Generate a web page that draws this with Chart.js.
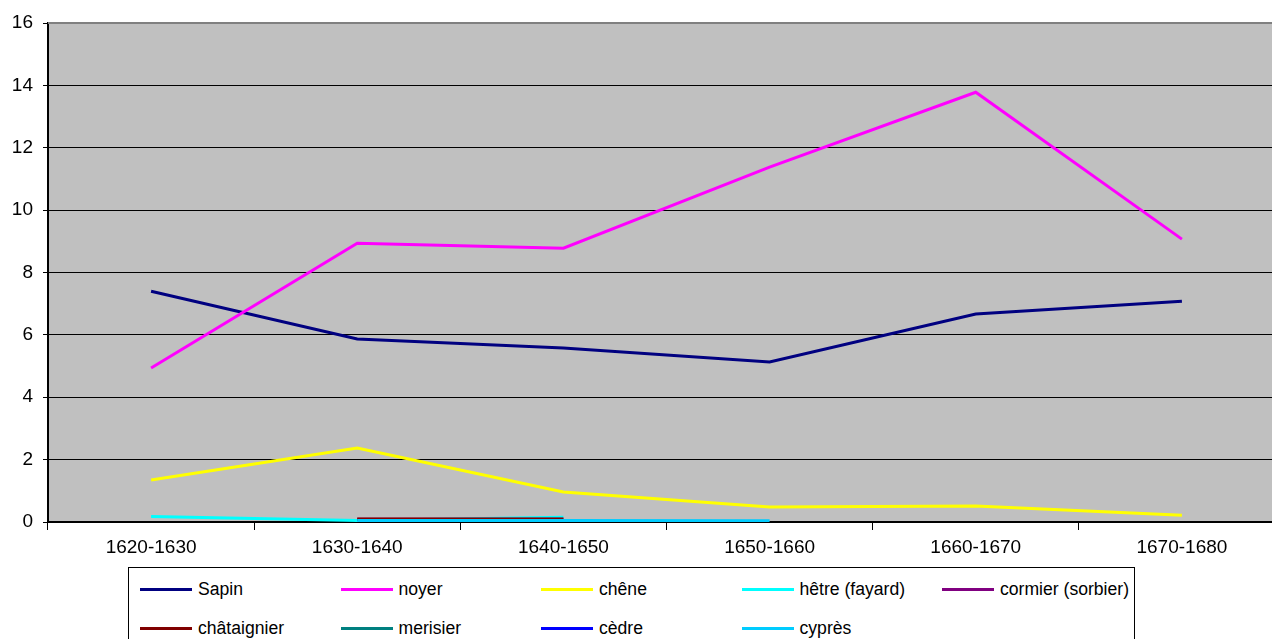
<!DOCTYPE html>
<html>
<head>
<meta charset="utf-8">
<script src="https://cdn.jsdelivr.net/npm/chart.js@4"></script>
<style>
  body { margin: 0; overflow: hidden; background: #fff; font-family: "Liberation Sans", Arial, sans-serif; }
  #wrap { position: relative; width: 1285px; height: 560px; }
  #legend {
    position: absolute; left: 128px; top: 567px; width: 1007px; height: 90px;
    border: 1px solid #000; box-sizing: border-box; padding: 6px 0 0 11px;
    display: grid; grid-template-columns: repeat(5, 200.5px); grid-auto-rows: 39px;
    font-size: 17.6px; color: #000;
  }
  .item { display: flex; align-items: center; white-space: nowrap; height: 30px; }
  .swatch { width: 52px; height: 3px; margin-right: 6px; }
</style>
</head>
<body>
<div id="wrap"><canvas id="chart"></canvas></div>
<div id="legend"></div>
<script>
// Periods and values
const periods = ['1620-1630', '1630-1640', '1640-1650', '1650-1660', '1660-1670', '1670-1680'];
const sapin = [7.40, 5.87, 5.58, 5.13, 6.67, 7.08];
const noyer = [4.94, 8.94, 8.78, 11.38, 13.78, 9.07];
const chene = [1.35, 2.37, 0.96, 0.48, 0.51, 0.22];
const hetre = [0.18, 0.05, 0.15, null, null, null];
const cormier = [null, 0.09, 0.09, null, null, null];
const chataignier = [null, 0.10, 0.10, null, null, null];
const merisier = [null, null, null, null, null, null];
const cedre = [null, null, null, null, null, null];
const cypres = [null, 0.05, 0.05, 0.04, null, null];

const series = [
  { label: 'Sapin', data: sapin, color: '#000080' },
  { label: 'noyer', data: noyer, color: '#FF00FF' },
  { label: 'chêne', data: chene, color: '#FFFF00' },
  { label: 'hêtre (fayard)', data: hetre, color: '#00FFFF' },
  { label: 'cormier (sorbier)', data: cormier, color: '#800080' },
  { label: 'châtaignier', data: chataignier, color: '#800000' },
  { label: 'merisier', data: merisier, color: '#008080' },
  { label: 'cèdre', data: cedre, color: '#0000FF' },
  { label: 'cyprès', data: cypres, color: '#00CCFF' },
];

// grey plot background with a grey frame
const plotBg = {
  id: 'plotBg',
  beforeDraw(chart) {
    const { ctx, chartArea: a } = chart;
    ctx.save();
    ctx.fillStyle = '#C0C0C0';
    ctx.fillRect(a.left, a.top, a.right - a.left, a.bottom - a.top);
    ctx.restore();
  },
  afterDatasetsDraw(chart) {
    const { ctx, chartArea: a } = chart;
    ctx.save();
    ctx.strokeStyle = '#808080';
    ctx.lineWidth = 2;
    ctx.beginPath();
    ctx.moveTo(a.left, a.top);
    ctx.lineTo(a.right, a.top);
    ctx.stroke();
    ctx.restore();
  }
};

const ctx = document.getElementById('chart').getContext('2d');
const chart = new Chart(ctx, {
  type: 'line',
  data: {
    labels: periods,
    datasets: series.map((s, i) => ({
      label: s.label,
      data: s.data,
      borderColor: s.color,
      backgroundColor: s.color,
      borderWidth: 3,
      pointRadius: 0,
      tension: 0,
      fill: false,
      order: series.length - i,
    })),
  },
  options: {
    responsive: true,
    maintainAspectRatio: false,
    animation: false,
    layout: { padding: { top: 23, right: 0, left: 0, bottom: 0 } },
    plugins: { legend: { display: false }, tooltip: { enabled: false } },
    scales: {
      x: {
        offset: true,
        afterFit: s => { s.height = 38; },
        grid: { offset: true, drawOnChartArea: false, drawTicks: true, tickLength: 8, color: '#000' },
        border: { color: '#000', width: 2 },
        ticks: { color: '#000', padding: 6, maxRotation: 0, font: { family: 'Liberation Sans', size: 19 } },
      },
      y: {
        min: 0, max: 16,
        afterFit: s => { s.width = 48; },
        grid: { color: '#000', lineWidth: 1, tickLength: 5, drawTicks: true },
        border: { color: '#000', width: 2 },
        ticks: { stepSize: 2, color: '#000', padding: 10, font: { family: 'Liberation Sans', size: 19 } },
      },
    },
  },
  plugins: [plotBg],
});

// legend laid out like the original grid
const legend = document.getElementById('legend');
chart.data.datasets.forEach(ds => {
  const item = document.createElement('div');
  item.className = 'item';
  item.innerHTML = `<span class="swatch" style="background:${ds.borderColor}"></span><span>${ds.label}</span>`;
  legend.appendChild(item);
});
</script>
</body>
</html>
